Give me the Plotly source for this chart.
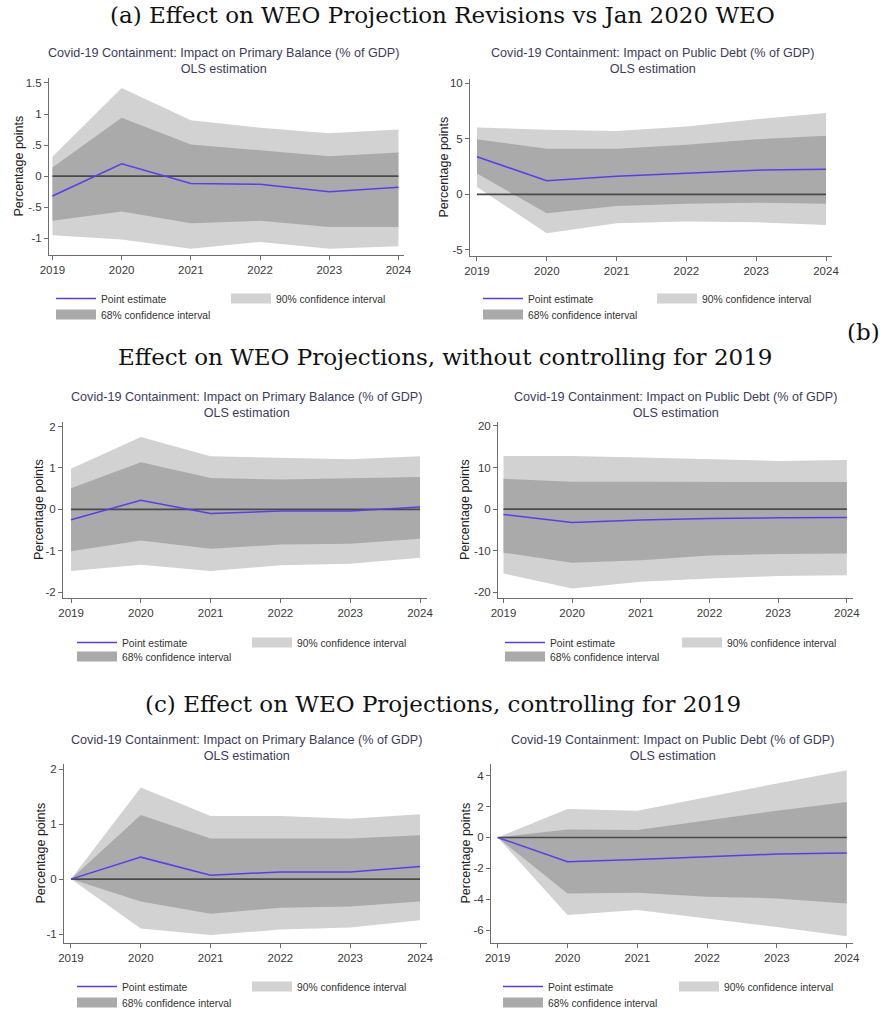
import plotly.graph_objects as go

W, H = 885, 1010

years = [2019, 2020, 2021, 2022, 2023, 2024]
year_labels = ["2019", "2020", "2021", "2022", "2023", "2024"]

# (a) Effect on WEO projection revisions vs Jan 2020 WEO
a_pb_point = [-0.32, 0.20, -0.12, -0.13, -0.25, -0.18]
a_pb_hi90 = [0.31, 1.42, 0.90, 0.78, 0.69, 0.75]
a_pb_lo90 = [-0.95, -1.02, -1.17, -1.06, -1.17, -1.13]
a_pb_hi68 = [0.14, 0.94, 0.51, 0.41, 0.32, 0.38]
a_pb_lo68 = [-0.72, -0.57, -0.76, -0.72, -0.82, -0.82]

a_debt_point = [3.37, 1.23, 1.63, 1.93, 2.17, 2.26]
a_debt_hi90 = [6.0, 5.8, 5.7, 6.1, 6.75, 7.3]
a_debt_lo90 = [0.66, -3.5, -2.6, -2.45, -2.5, -2.75]
a_debt_hi68 = [4.94, 4.1, 4.1, 4.46, 4.94, 5.27]
a_debt_lo68 = [1.87, -1.7, -1.05, -0.85, -0.75, -0.85]

# (b) without controlling for 2019
b_pb_point = [-0.25, 0.22, -0.10, -0.04, -0.04, 0.06]
b_pb_hi90 = [0.98, 1.75, 1.28, 1.25, 1.21, 1.28]
b_pb_lo90 = [-1.49, -1.34, -1.49, -1.35, -1.31, -1.17]
b_pb_hi68 = [0.51, 1.14, 0.76, 0.72, 0.75, 0.78]
b_pb_lo68 = [-1.01, -0.75, -0.95, -0.85, -0.83, -0.71]

b_debt_point = [-1.3, -3.2, -2.65, -2.25, -2.1, -2.0]
b_debt_hi90 = [12.8, 12.8, 12.4, 12.0, 11.6, 11.8]
b_debt_lo90 = [-15.5, -19.1, -17.5, -16.7, -16.1, -15.9]
b_debt_hi68 = [7.3, 6.6, 6.6, 6.6, 6.6, 6.5]
b_debt_lo68 = [-10.5, -12.9, -12.3, -11.2, -10.8, -10.7]

# (c) controlling for 2019
c_pb_point = [0.0, 0.40, 0.07, 0.13, 0.13, 0.23]
c_pb_hi90 = [0.0, 1.67, 1.15, 1.15, 1.10, 1.18]
c_pb_lo90 = [0.0, -0.90, -1.02, -0.92, -0.88, -0.75]
c_pb_hi68 = [0.0, 1.17, 0.74, 0.74, 0.74, 0.80]
c_pb_lo68 = [0.0, -0.41, -0.63, -0.52, -0.50, -0.41]

c_debt_point = [0.0, -1.58, -1.43, -1.25, -1.08, -1.0]
c_debt_hi90 = [0.0, 1.84, 1.73, 2.63, 3.5, 4.36]
c_debt_lo90 = [0.0, -5.03, -4.7, -5.25, -5.8, -6.4]
c_debt_hi68 = [0.0, 0.52, 0.48, 1.12, 1.73, 2.3]
c_debt_lo68 = [0.0, -3.63, -3.58, -3.84, -3.95, -4.28]

# y tick labels (Stata style)
a_pb_ticks = [-1, -0.5, 0, 0.5, 1, 1.5]
a_pb_ticktext = ["-1", "-.5", "0", ".5", "1", "1.5"]
a_debt_ticks = [-5, 0, 5, 10]
a_debt_ticktext = ["-5", "0", "5", "10"]
b_pb_ticks = [-2, -1, 0, 1, 2]
b_pb_ticktext = ["-2", "-1", "0", "1", "2"]
b_debt_ticks = [-20, -10, 0, 10, 20]
b_debt_ticktext = ["-20", "-10", "0", "10", "20"]
c_pb_ticks = [-1, 0, 1, 2]
c_pb_ticktext = ["-1", "0", "1", "2"]
c_debt_ticks = [-6, -4, -2, 0, 2, 4]
c_debt_ticktext = ["-6", "-4", "-2", "0", "2", "4"]

title_pb = "Covid-19 Containment: Impact on Primary Balance (% of GDP)"
title_debt = "Covid-19 Containment: Impact on Public Debt (% of GDP)"
subtitle = "OLS estimation"
ytitle = "Percentage points"
name_point = "Point estimate"
name_90 = "90% confidence interval"
name_68 = "68% confidence interval"

# ---- styling ----
C90 = "rgb(210,210,210)"
C68 = "rgb(170,170,170)"
CLINE = "#5a3cf0"
CZERO = "#4a4a4a"
SANS = "Liberation Sans, Arial, sans-serif"
SERIF = "DejaVu Serif, serif"
ENTRY_PAD = 56  # symbol + gap width of a legend entry

panels = [
    dict(data=(a_pb_point, a_pb_hi90, a_pb_lo90, a_pb_hi68, a_pb_lo68), ticks=(a_pb_ticks, a_pb_ticktext),
         title=title_pb, px=(49, 404, 78, 255), xr=(2018.95, 2024.08), yr=(-1.27, 1.58),
         tc=(223, 60.5), ytx=18, lg=(56, 232, 299, 315)),
    dict(data=(a_debt_point, a_debt_hi90, a_debt_lo90, a_debt_hi68, a_debt_lo68), ticks=(a_debt_ticks, a_debt_ticktext),
         title=title_debt, px=(470, 832, 79, 256), xr=(2018.9, 2024.086), yr=(-5.54, 10.36),
         tc=(652, 60.5), ytx=443, lg=(483, 658, 299, 315)),
    dict(data=(b_pb_point, b_pb_hi90, b_pb_lo90, b_pb_hi68, b_pb_lo68), ticks=(b_pb_ticks, b_pb_ticktext),
         title=title_pb, px=(63, 427, 422, 598), xr=(2018.885, 2024.1), yr=(-2.14, 2.11),
         tc=(246, 404.5), ytx=39, lg=(77, 253, 643, 657)),
    dict(data=(b_debt_point, b_debt_hi90, b_debt_lo90, b_debt_hi68, b_debt_lo68), ticks=(b_debt_ticks, b_debt_ticktext),
         title=title_debt, px=(498, 853, 422, 598), xr=(2018.92, 2024.09), yr=(-21.4, 20.96),
         tc=(675, 404.5), ytx=465, lg=(505, 683, 643, 657)),
    dict(data=(c_pb_point, c_pb_hi90, c_pb_lo90, c_pb_hi68, c_pb_lo68), ticks=(c_pb_ticks, c_pb_ticktext),
         title=title_pb, px=(64, 427, 764, 943), xr=(2018.9, 2024.1), yr=(-1.164, 2.097),
         tc=(246, 747.5), ytx=40, lg=(77, 253, 987, 1003)),
    dict(data=(c_debt_point, c_debt_hi90, c_debt_lo90, c_debt_hi68, c_debt_lo68), ticks=(c_debt_ticks, c_debt_ticktext),
         title=title_debt, px=(491, 853, 764, 943), xr=(2018.904, 2024.09), yr=(-6.84, 4.76),
         tc=(672, 747.5), ytx=465, lg=(503, 680, 987, 1003)),
]

fig = go.Figure()
annotations = []
layout_axes = {}

for i, p in enumerate(panels):
    k = i + 1
    xa = "x" if k == 1 else f"x{k}"
    ya = "y" if k == 1 else f"y{k}"
    leg1 = "legend" if k == 1 else f"legend{2 * k - 1}"
    leg2 = f"legend{2 * k}"
    point, hi90, lo90, hi68, lo68 = p["data"]

    fig.add_trace(go.Scatter(x=years + years[::-1], y=hi90 + lo90[::-1], fill="toself",
                             fillcolor=C90, line=dict(width=0), mode="lines",
                             hoverinfo="skip", showlegend=False, xaxis=xa, yaxis=ya))
    fig.add_trace(go.Scatter(x=years + years[::-1], y=hi68 + lo68[::-1], fill="toself",
                             fillcolor=C68, line=dict(width=0), mode="lines",
                             hoverinfo="skip", showlegend=False, xaxis=xa, yaxis=ya))
    fig.add_trace(go.Scatter(x=[years[0], years[-1]], y=[0, 0], mode="lines",
                             line=dict(color=CZERO, width=1.6), hoverinfo="skip",
                             showlegend=False, xaxis=xa, yaxis=ya))
    fig.add_trace(go.Scatter(x=years, y=point, mode="lines", name=name_point,
                             line=dict(color=CLINE, width=1.5), xaxis=xa, yaxis=ya,
                             legend=leg1, legendrank=1))
    fig.add_trace(go.Scatter(x=[None], y=[None], mode="lines", name=name_90,
                             line=dict(color=C90, width=10), xaxis=xa, yaxis=ya,
                             legend=leg1, legendrank=2))
    fig.add_trace(go.Scatter(x=[None], y=[None], mode="lines", name=name_68,
                             line=dict(color=C68, width=10), xaxis=xa, yaxis=ya,
                             legend=leg2, legendrank=3))

    x0, x1, y0, y1 = p["px"]
    common = dict(showgrid=False, zeroline=False, showline=True, linecolor="#6e6e6e",
                  linewidth=1, ticks="outside", ticklen=4, tickcolor="#6e6e6e",
                  tickfont=dict(family=SANS, size=11.5, color="#3a3a3a"), fixedrange=True,
                  automargin=False)
    layout_axes["xaxis" if k == 1 else f"xaxis{k}"] = dict(
        domain=[x0 / W, x1 / W], range=list(p["xr"]), anchor=ya,
        tickvals=years, ticktext=year_labels, **common)
    tv, tt = p["ticks"]
    layout_axes["yaxis" if k == 1 else f"yaxis{k}"] = dict(
        domain=[1 - y1 / H, 1 - y0 / H], range=list(p["yr"]), anchor=xa,
        tickvals=tv, ticktext=tt, **common)

    tcx, tcy = p["tc"]
    annotations.append(dict(text=p["title"] + "<br>" + subtitle, x=tcx / W, y=1 - tcy / H,
                            xref="paper", yref="paper", xanchor="center", yanchor="middle",
                            showarrow=False, align="center",
                            font=dict(family=SANS, size=12.6, color="#3c3c5c")))
    annotations.append(dict(text=ytitle, x=p["ytx"] / W, y=1 - ((y0 + y1) / 2) / H,
                            xref="paper", yref="paper", xanchor="center", yanchor="middle",
                            textangle=-90, showarrow=False,
                            font=dict(family=SANS, size=12.5, color="#222222")))

    sx, s90, r1, r2 = p["lg"]
    legfont = dict(family=SANS, size=10.3, color="#333333")
    layout_axes[leg1] = dict(x=(sx - 5) / W, y=1 - (r1 - 15) / H, xanchor="left", yanchor="top",
                             orientation="h", entrywidth=s90 - sx - ENTRY_PAD, entrywidthmode="pixels",
                             itemwidth=40, font=legfont, bgcolor="rgba(0,0,0,0)",
                             borderwidth=0, tracegroupgap=0, itemclick=False, itemdoubleclick=False)
    layout_axes[leg2] = dict(x=(sx - 5) / W, y=1 - (r2 - 15) / H, xanchor="left", yanchor="top",
                             orientation="h", itemwidth=40, font=legfont, bgcolor="rgba(0,0,0,0)",
                             borderwidth=0, tracegroupgap=0, itemclick=False, itemdoubleclick=False)

headings = [
    ("(a) Effect on WEO Projection Revisions vs Jan 2020 WEO", 442, 15),
    ("(b)", 863, 332),
    ("Effect on WEO Projections, without controlling for 2019", 445, 357),
    ("(c) Effect on WEO Projections, controlling for 2019", 443, 704),
]
for txt, hx, hy in headings:
    annotations.append(dict(text=txt, x=hx / W, y=1 - hy / H, xref="paper", yref="paper",
                            xanchor="center", yanchor="middle", showarrow=False,
                            font=dict(family=SERIF, size=23, color="#111111")))

fig.update_layout(width=W, height=H, margin=dict(l=0, r=0, t=0, b=0, autoexpand=False),
                  paper_bgcolor="white", plot_bgcolor="white",
                  annotations=annotations, hovermode=False, **layout_axes)

fig.write_html("out.html", config=dict(displayModeBar=False),
               post_script="document.body.style.margin='0px';document.body.style.overflow='hidden';")
